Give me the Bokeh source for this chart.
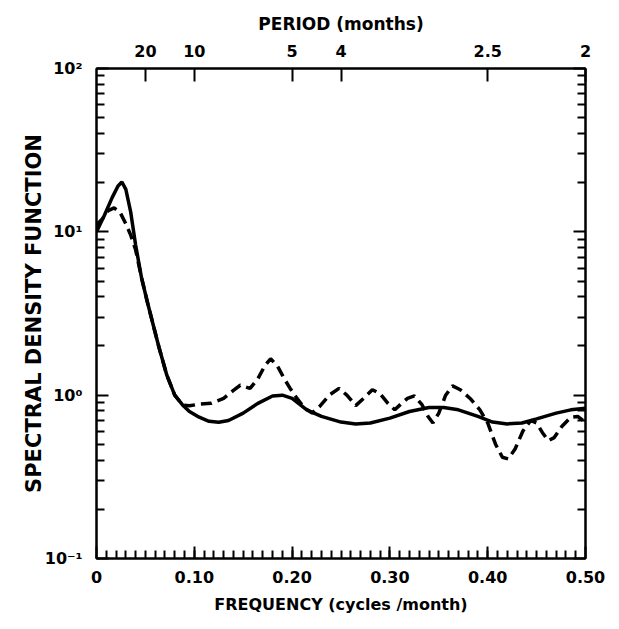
from bokeh.plotting import figure
from bokeh.models import Range1d, LinearAxis, LogAxis, FixedTicker
from bokeh.embed import file_html
from bokeh.resources import INLINE

# ---- data ----
freq_solid = [0.0, 0.008, 0.016, 0.022, 0.026, 0.030, 0.035, 0.040, 0.046, 0.052,
              0.058, 0.064, 0.072, 0.080, 0.088, 0.095, 0.105, 0.115, 0.125, 0.135,
              0.150, 0.165, 0.180, 0.190, 0.200, 0.215, 0.230, 0.250, 0.265, 0.280,
              0.300, 0.320, 0.340, 0.355, 0.370, 0.390, 0.405, 0.420, 0.435, 0.450,
              0.470, 0.485, 0.500]
sdf_solid = [10.0, 12.6, 16.2, 19.1, 20.2, 18.2, 13.2, 8.3, 5.25, 3.72,
             2.69, 1.95, 1.32, 1.0, 0.871, 0.794, 0.733, 0.692, 0.682, 0.700,
             0.776, 0.891, 0.989, 1.0, 0.955, 0.813, 0.741, 0.684, 0.667, 0.676,
             0.724, 0.794, 0.841, 0.841, 0.813, 0.741, 0.684, 0.667, 0.676, 0.716,
             0.776, 0.813, 0.832]

freq_dashed = [0.0, 0.006, 0.012, 0.018, 0.024, 0.030, 0.035, 0.040, 0.046, 0.052,
               0.058, 0.064, 0.072, 0.080, 0.088, 0.095, 0.105, 0.117, 0.130, 0.140,
               0.147, 0.157, 0.165, 0.172, 0.178, 0.185, 0.192, 0.198, 0.205, 0.213,
               0.2205, 0.228, 0.238, 0.248, 0.256, 0.265, 0.273, 0.282, 0.290, 0.298,
               0.305, 0.312, 0.318, 0.325, 0.333, 0.339, 0.344, 0.350, 0.357, 0.364,
               0.372, 0.382, 0.392, 0.400, 0.408, 0.415, 0.421, 0.428, 0.436, 0.444,
               0.450, 0.456, 0.462, 0.468, 0.476, 0.485, 0.492, 0.500]
sdf_dashed = [11.0, 12.0, 13.5, 14.0, 13.2, 11.2, 9.55, 7.76, 5.25, 3.72,
              2.69, 1.95, 1.32, 1.0, 0.871, 0.861, 0.881, 0.891, 0.955, 1.07,
              1.15, 1.10, 1.26, 1.51, 1.67, 1.51, 1.26, 1.10, 0.955, 0.832,
              0.776, 0.851, 1.0, 1.10, 1.0, 0.863, 0.955, 1.08, 1.02, 0.891,
              0.813, 0.891, 0.955, 0.989, 0.871, 0.741, 0.676, 0.776, 1.0, 1.14,
              1.08, 0.955, 0.813, 0.676, 0.501, 0.417, 0.407, 0.468, 0.603, 0.700,
              0.676, 0.589, 0.527, 0.550, 0.646, 0.733, 0.741, 0.682]

freq_ticks = [0.0, 0.1, 0.2, 0.3, 0.4, 0.5]
freq_tick_labels = ["0", "0.10", "0.20", "0.30", "0.40", "0.50"]
period_values = [20, 10, 5, 4, 2.5, 2]
period_labels = ["20", "10", "5", "4", "2.5", "2"]
y_ticks = [0.1, 1, 10, 100]
y_tick_labels = ["10\u207b\u00b9", "10\u2070", "10\u00b9", "10\u00b2"]

FONT = "DejaVu Sans"

p = figure(frame_width=489, frame_height=490, y_axis_type="log",
           x_range=Range1d(0, 0.5), y_range=Range1d(0.1, 100),
           output_backend="svg", toolbar_location=None,
           min_border_left=96, min_border_top=68, min_border_right=30,
           min_border_bottom=50, x_axis_location=None, y_axis_location=None)
p.background_fill_color = "white"
p.border_fill_color = "white"
p.xgrid.visible = False
p.ygrid.visible = False
p.outline_line_color = "black"
p.outline_line_width = 2


def style(ax):
    ax.axis_line_color = "black"
    ax.axis_line_width = 2
    ax.major_tick_line_color = "black"
    ax.major_tick_line_width = 2
    ax.minor_tick_line_color = "black"
    ax.minor_tick_line_width = 2
    ax.major_tick_out = 0
    ax.minor_tick_out = 0
    ax.major_label_text_font = FONT
    ax.major_label_text_font_style = "bold"
    ax.major_label_text_font_size = "16px"
    ax.major_label_text_color = "black"
    ax.axis_label_text_font = FONT
    ax.axis_label_text_font_style = "bold"
    ax.axis_label_text_font_size = "17px"
    ax.axis_label_text_color = "black"


minor_x = [i / 100 for i in range(1, 50)]
bottom = LinearAxis(ticker=FixedTicker(ticks=freq_ticks, minor_ticks=minor_x),
                    axis_label="FREQUENCY (cycles /month)")
style(bottom)
bottom.major_tick_in = 12
bottom.minor_tick_in = 8
bottom.major_label_overrides = {t: l for t, l in zip(freq_ticks, freq_tick_labels)}
bottom.major_label_standoff = 12
bottom.axis_label_standoff = 9
bottom.axis_label_text_font_size = "16px"
p.add_layout(bottom, "below")

period_freqs = [1.0 / v for v in period_values]
top = LinearAxis(ticker=FixedTicker(ticks=period_freqs),
                 axis_label="PERIOD (months)")
style(top)
top.major_tick_in = 13
top.major_label_overrides = {t: l for t, l in zip(period_freqs, period_labels)}
top.major_label_standoff = 12
top.axis_label_standoff = 8
p.add_layout(top, "above")

minor_y = []
for dec in [0.1, 1, 10]:
    for m in range(2, 10):
        minor_y.append(round(dec * m, 6))

left = LogAxis(ticker=FixedTicker(ticks=y_ticks, minor_ticks=minor_y),
               axis_label="SPECTRAL DENSITY FUNCTION")
style(left)
left.major_tick_in = 12
left.minor_tick_in = 8
left.major_label_overrides = {t: l for t, l in zip(y_ticks, y_tick_labels)}
left.major_label_standoff = 14
left.axis_label_standoff = -4
left.axis_label_text_font_size = "21px"
p.add_layout(left, "left")

right = LogAxis(ticker=FixedTicker(ticks=y_ticks, minor_ticks=minor_y))
style(right)
right.major_tick_in = 12
right.minor_tick_in = 8
right.major_label_overrides = {t: "" for t in y_ticks}
right.major_label_text_alpha = 0
right.major_label_standoff = 0
p.add_layout(right, "right")

p.line(freq_solid, sdf_solid, line_color="black", line_width=3.5)
p.line(freq_dashed, sdf_dashed, line_color="black", line_width=3.5, line_dash="11 6")

open("out.html", "w").write(file_html(p, INLINE))
